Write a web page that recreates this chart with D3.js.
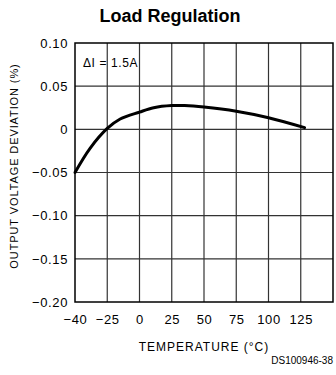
<!DOCTYPE html>
<html>
<head>
<meta charset="utf-8">
<script src="https://cdn.jsdelivr.net/npm/d3@7"></script>
<style>
  body { margin: 0; background: #fff; }
  text { font-family: "Liberation Sans", Arial, sans-serif; fill: #000; }
</style>
</head>
<body>
<div class="chart"></div>
<script>
const margin = {top: 43, left: 75, right: 3, bottom: 73};
const width = 336 - margin.left - margin.right,
    height = 375 - margin.top - margin.bottom;

const tempValues = [-40, -33, -25, -15, 0, 11, 25, 35, 50, 75, 100, 128];
const devValues = [-0.05, -0.022, 0.001, 0.012, 0.020, 0.025, 0.0275, 0.0275, 0.0258, 0.021, 0.0135, 0.002];
const xTicks = [-40, -25, 0, 25, 50, 75, 100, 125, 150];
const xTickLabels = ["\u221240", "\u221225", "0", "25", "50", "75", "100", "125", ""];
const yTicks = [0.10, 0.05, 0, -0.05, -0.10, -0.15, -0.20];
const yTickLabels = ["0.10", "0.05", "0", "\u22120.05", "\u22120.10", "\u22120.15", "\u22120.20"];

const points = tempValues.map((t, i) => ({t: t, v: devValues[i]}));

const svg = d3.select(".chart")
    .append("svg")
    .attr("width", 336)
    .attr("height", 375);

const g = svg.append("g")
    .attr("transform", "translate(" + margin.left + "," + margin.top + ")");

// first interval (-40..-25) is drawn as wide as the others
const x = d3.scaleLinear()
    .domain([-40, -25, 150])
    .range([0, width / 8, width]);

const y = d3.scaleLinear()
    .domain([-0.20, 0.10])
    .range([height, 0]);

// grid
g.append("g")
    .selectAll("line")
    .data(xTicks.slice(1, -1))
    .join("line")
    .attr("x1", d => x(d)).attr("x2", d => x(d))
    .attr("y1", 0).attr("y2", height)
    .attr("stroke", "#333")
    .attr("stroke-width", 1.2);

g.append("g")
    .selectAll("line")
    .data(yTicks.slice(1, -1))
    .join("line")
    .attr("x1", 0).attr("x2", width)
    .attr("y1", d => y(d)).attr("y2", d => y(d))
    .attr("stroke", "#333")
    .attr("stroke-width", 1.2);

g.append("rect")
    .attr("width", width)
    .attr("height", height)
    .attr("fill", "none")
    .attr("stroke", "#000")
    .attr("stroke-width", 1.5);

// axes labels
const xAxis = d3.axisBottom(x)
    .tickValues(xTicks)
    .tickSize(0)
    .tickPadding(13)
    .tickFormat((d, i) => xTickLabels[i]);

const yAxis = d3.axisLeft(y)
    .tickValues(yTicks)
    .tickSize(0)
    .tickPadding(7)
    .tickFormat((d, i) => yTickLabels[i]);

g.append("g")
    .attr("transform", "translate(0," + height + ")")
    .call(xAxis)
    .call(a => a.select(".domain").remove())
    .selectAll("text")
    .style("font-size", "13px")
    .style("letter-spacing", "0.6px")
    .style("font-family", "'Liberation Sans', Arial, sans-serif");

g.append("g")
    .call(yAxis)
    .call(a => a.select(".domain").remove())
    .selectAll("text")
    .style("font-size", "13px")
    .style("letter-spacing", "0.6px")
    .style("font-family", "'Liberation Sans', Arial, sans-serif");

// curve
const line = d3.line()
    .x(d => x(d.t))
    .y(d => y(d.v))
    .curve(d3.curveCatmullRom);

g.append("path")
    .datum(points)
    .attr("d", line)
    .attr("fill", "none")
    .attr("stroke", "#000")
    .attr("stroke-width", 3)
    .attr("stroke-linecap", "round");

g.append("text")
    .attr("x", 8)
    .attr("y", 24)
    .style("font-size", "12px")
    .style("letter-spacing", "0.6px")
    .text("\u0394I = 1.5A");

// titles
svg.append("text")
    .attr("x", 170)
    .attr("y", 22)
    .attr("text-anchor", "middle")
    .style("font-size", "18px")
    .style("font-weight", "bold")
    .text("Load Regulation");

svg.append("text")
    .attr("x", margin.left + width / 2)
    .attr("y", 351)
    .attr("text-anchor", "middle")
    .style("font-size", "12px")
    .style("letter-spacing", "1px")
    .text("TEMPERATURE (\u00B0C)");

svg.append("text")
    .attr("transform", "translate(18,166) rotate(-90)")
    .attr("text-anchor", "middle")
    .style("font-size", "11px")
    .style("letter-spacing", "0.9px")
    .text("OUTPUT VOLTAGE DEVIATION (%)");

svg.append("text")
    .attr("x", 333)
    .attr("y", 364)
    .attr("text-anchor", "end")
    .style("font-size", "10px")
    .text("DS100946-38");
</script>
</body>
</html>
